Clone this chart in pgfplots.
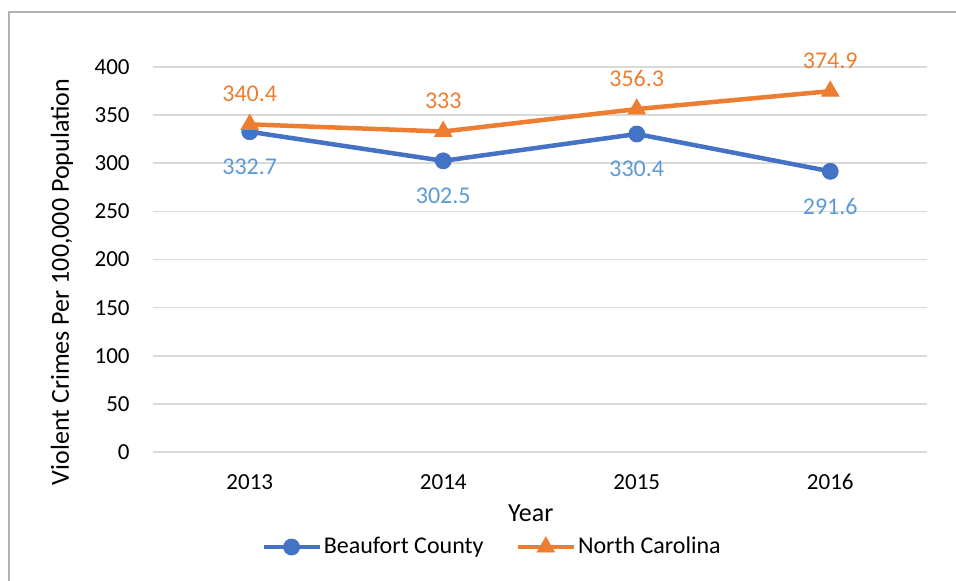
\documentclass[border=0pt]{standalone}
\usepackage{fontspec}
\setmainfont{Carlito}
\usepackage{pgfplots}
\pgfplotsset{compat=1.18}
\definecolor{cblue}{HTML}{4472C4}
\definecolor{corange}{HTML}{ED7D31}
\definecolor{lblue}{HTML}{5B9BD5}
\definecolor{gridc}{HTML}{D9D9D9}
\begin{document}
\begin{tikzpicture}
\path[use as bounding box] (0,0) rectangle (478pt,290pt);
\draw[color=black!30, line width=0.8pt] (4.5pt,-2pt) -- (4.5pt,284pt) -- (480pt,284pt);
\begin{axis}[
  at={(76.5pt,64pt)}, anchor=south west,
  scale only axis, width=387pt, height=192.5pt,
  xmin=-0.5, xmax=3.5, ymin=0, ymax=400,
  xtick={0,1,2,3}, xticklabels={2013,2014,2015,2016},
  ytick={0,50,...,400},
  axis line style={draw=none},
  major tick length=0pt,
  ymajorgrids, grid style={color=gridc, line width=0.8pt},
  clip=false,
  /pgf/number format/assume math mode=true,
  ticklabel style={font=\fontsize{11.5}{13}\selectfont, text=black},
  yticklabel style={inner sep=0pt, xshift=-11.5pt},
  xticklabel style={inner sep=0pt, yshift=-11pt},
  every axis x label/.style={at={(axis description cs:0.488,-0.1584)},anchor=center},
  every axis y label/.style={at={(axis description cs:-0.1176,0.4416)},rotate=90,anchor=center},
  label style={font=\fontsize{13}{15}\selectfont},
  xlabel={Year},
  ylabel={Violent Crimes Per 100,000 Population},
  legend columns=2,
  legend style={at={(axis description cs:0.438,-0.2468)}, anchor=center, draw=none, fill=none,
    font=\fontsize{12}{14}\selectfont, nodes={inner sep=1pt},
    /tikz/every even column/.append style={column sep=15pt}},
  legend image code/.code={\draw[mark repeat=2,mark phase=2,#1] plot coordinates {(0pt,0pt) (14pt,0pt) (28pt,0pt)};},
  nodes near coords,
  nodes near coords style={font=\fontsize{12}{14}\selectfont, inner sep=0pt},
]
\addplot[color=cblue, line width=2.25pt, mark=*, mark size=4pt, mark options={solid, line width=0.4pt},
  nodes near coords style={text=lblue, anchor=north, yshift=-13.5pt}]
  coordinates {(0,332.7) (1,302.5) (2,330.4) (3,291.6)};
\addlegendentry{Beaufort County}
\addplot[color=corange, line width=2.25pt, mark=triangle*, mark size=5pt, mark options={solid, line width=0.4pt},
  nodes near coords style={text=corange, anchor=south, yshift=11pt}]
  coordinates {(0,340.4) (1,333) (2,356.3) (3,374.9)};
\addlegendentry{North Carolina}
\end{axis}
\end{tikzpicture}
\end{document}
